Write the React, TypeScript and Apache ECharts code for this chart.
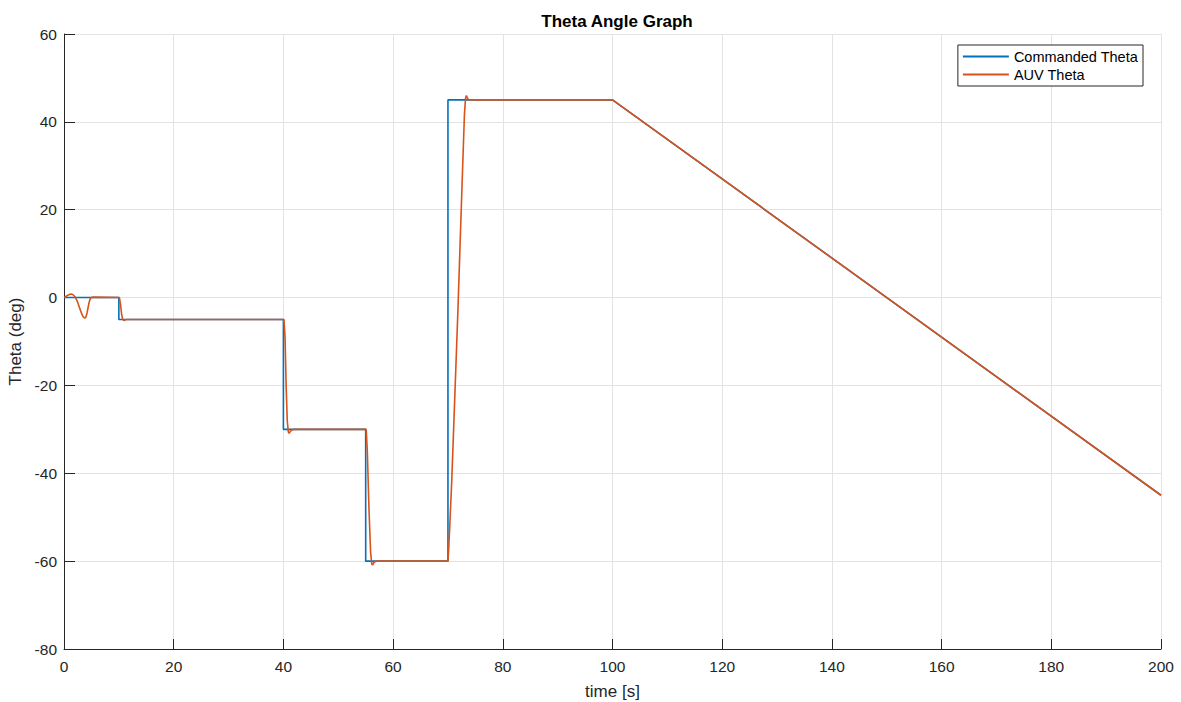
import React, { useEffect, useRef } from "react";
import * as echarts from "echarts";

const commandedTheta: [number, number][] = [
  [0, 0], [10, 0], [10, -5], [40, -5], [40, -30], [55, -30], [55, -60],
  [70, -60], [70, 45], [100, 45], [200, -45],
];

const auvTheta: [number, number][] = [
  [0, 0], [0.4, 0.3], [0.8, 0.6], [1.2, 0.8], [1.6, 0.7], [2.0, 0.2],
  [2.4, -0.8], [2.8, -2.2], [3.2, -3.6], [3.5, -4.4], [3.8, -4.7],
  [4.0, -4.4], [4.2, -3.5], [4.4, -2.2], [4.6, -1], [4.8, -0.2], [5.0, 0],
  [5.3, 0.1], [10.1, 0], [10.3, -1.5], [10.5, -3.8], [10.7, -4.9],
  [10.9, -5.2], [11.2, -5.05], [11.5, -5], [40.1, -5], [40.3, -9],
  [40.5, -20], [40.7, -28], [40.9, -30.6], [41.05, -30.9], [41.3, -30.4],
  [41.6, -30.1], [41.9, -30], [55.1, -30], [55.3, -35], [55.6, -48],
  [55.9, -58], [56.1, -60.6], [56.25, -60.9], [56.5, -60.3], [56.8, -60.05],
  [57.1, -60], [70, -60], [70.15, -57], [70.4, -50], [70.7, -41.5],
  [71.8, -3.5], [72.6, 26.7], [73.0, 41.5], [73.2, 45.3], [73.35, 46],
  [73.5, 45.6], [73.7, 45.1], [74, 45], [100, 45], [200, -45],
];

const xTicks = { min: 0, max: 200, interval: 20 };
const yTicks = { min: -80, max: 60, interval: 20 };

const FONT = "'Liberation Sans', Arial, Helvetica, sans-serif";
const AXIS_COLOR = "#262626";

export default function App() {
  const ref = useRef<HTMLDivElement>(null);
  useEffect(() => {
    if (!ref.current) return;
    const chart = echarts.init(ref.current, undefined, { renderer: "svg" });
    chart.setOption({
      animation: false,
      backgroundColor: "#ffffff",
      title: {
        text: "Theta Angle Graph",
        left: 612,
        textAlign: "center",
        top: 8,
        textStyle: { fontFamily: FONT, fontSize: 17, fontWeight: "bold", color: "#000" },
      },
      legend: {
        orient: "vertical",
        right: 38,
        top: 45,
        icon: "rect",
        itemWidth: 46,
        itemHeight: 2,
        itemGap: 3,
        padding: [4, 5, 4, 5],
        borderColor: AXIS_COLOR,
        borderWidth: 1,
        borderRadius: 0,
        backgroundColor: "#fff",
        textStyle: { fontFamily: FONT, fontSize: 14.5, color: "#000" },
        data: ["Commanded Theta", "AUV Theta"],
      },
      grid: {
        left: 64,
        right: 20,
        top: 34,
        bottom: 53,
        containLabel: false,
        outerBoundsMode: "none",
      },
      xAxis: {
        type: "value",
        min: xTicks.min,
        max: xTicks.max,
        interval: xTicks.interval,
        name: "time [s]",
        nameLocation: "middle",
        nameGap: 34,
        nameTextStyle: { fontFamily: FONT, fontSize: 17, color: AXIS_COLOR },
        axisLine: { show: true, onZero: false, lineStyle: { color: AXIS_COLOR, width: 1 } },
        axisTick: { show: true, inside: true, length: 10, lineStyle: { color: AXIS_COLOR } },
        axisLabel: { fontFamily: FONT, fontSize: 15.5, color: AXIS_COLOR, margin: 9 },
        splitLine: { show: true, lineStyle: { color: "#e3e3e3", width: 1 } },
      },
      yAxis: {
        type: "value",
        min: yTicks.min,
        max: yTicks.max,
        interval: yTicks.interval,
        name: "Theta (deg)",
        nameLocation: "middle",
        nameGap: 40,
        nameTextStyle: { fontFamily: FONT, fontSize: 17, color: AXIS_COLOR },
        axisLine: { show: true, onZero: false, lineStyle: { color: AXIS_COLOR, width: 1 } },
        axisTick: { show: true, inside: true, length: 11, lineStyle: { color: AXIS_COLOR } },
        axisLabel: { fontFamily: FONT, fontSize: 15.5, color: AXIS_COLOR, margin: 7 },
        splitLine: { show: true, lineStyle: { color: "#e3e3e3", width: 1 } },
      },
      series: [
        {
          name: "Commanded Theta",
          type: "line",
          data: commandedTheta,
          symbol: "none",
          lineStyle: { color: "#0072BD", width: 1.6 },
          itemStyle: { color: "#0072BD" },
        },
        {
          name: "AUV Theta",
          type: "line",
          data: auvTheta,
          symbol: "none",
          lineStyle: { color: "#D95319", width: 1.6 },
          itemStyle: { color: "#D95319" },
        },
      ],
    });
    return () => chart.dispose();
  }, []);
  return (
    <div
      ref={ref}
      style={{ position: "fixed", left: 0, top: 0, width: 1181, height: 702 }}
    />
  );
}
